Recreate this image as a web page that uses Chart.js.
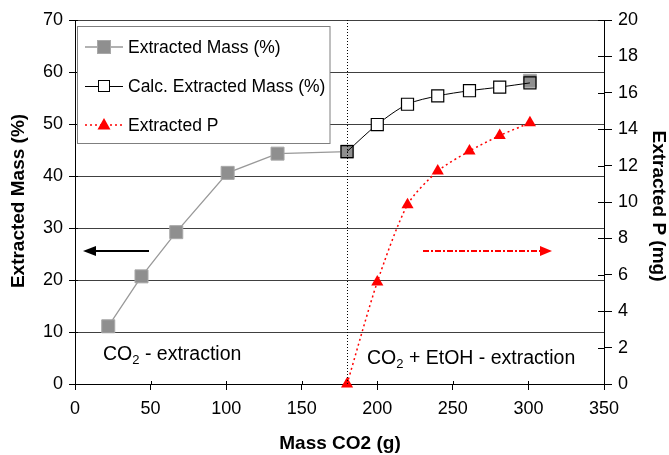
<!DOCTYPE html>
<html><head><meta charset="utf-8">
<script src="https://cdn.jsdelivr.net/npm/chart.js@4.4.1/dist/chart.umd.min.js"></script>
<style>html,body{margin:0;padding:0;background:#fff}</style>
</head><body>
<canvas id="c" width="669" height="455"></canvas>
<script>
// ---- data ----
const massX = [22, 44, 67, 101, 134, 180, 301];
const massY = [11.1, 20.7, 29.2, 40.6, 44.3, 44.7, 58.3];
const calcX = [180, 200, 220, 240, 261, 281, 301];
const calcY = [44.7, 49.9, 53.8, 55.4, 56.4, 57.1, 57.9];
const pX = [180, 200, 220, 240, 261, 281, 301];
const pY = [0, 5.6, 9.85, 11.7, 12.8, 13.65, 14.35];
const xTicks = [0, 50, 100, 150, 200, 250, 300, 350];
const leftTicks = [0, 10, 20, 30, 40, 50, 60, 70];
const rightTicks = [0, 2, 4, 6, 8, 10, 12, 14, 16, 18, 20];
const seriesNames = ['Extracted Mass (%)', 'Calc. Extracted Mass (%)', 'Extracted P'];
const xTitle = 'Mass CO2 (g)';
const yTitle = 'Extracted Mass (%)';
const y2Title = 'Extracted P (mg)';
const phaseSplit = 180;

const FONT = 'Arial, "Liberation Sans", sans-serif';
Chart.defaults.font.family = FONT;
Chart.defaults.color = '#000';

const pts = (xs, ys) => xs.map((x, i) => ({x, y: ys[i]}));

const overlay = {
  id: 'overlay',
  afterDatasetsDraw(chart) {
    const {ctx, chartArea: a, scales} = chart;
    ctx.save();
    const sx = Math.round(scales.x.getPixelForValue(phaseSplit)) + 0.5;
    ctx.strokeStyle = '#000'; ctx.lineWidth = 1; ctx.setLineDash([1, 2]);
    ctx.beginPath(); ctx.moveTo(sx, a.top); ctx.lineTo(sx, a.bottom); ctx.stroke();
    ctx.restore();
  },
  afterDraw(chart) {
    const {ctx, chartArea: a, scales} = chart;
    ctx.save();
    // inner tick crossings
    ctx.strokeStyle = '#000'; ctx.lineWidth = 1;
    ctx.beginPath();
    scales.y.ticks.forEach(t => { const y = Math.round(scales.y.getPixelForValue(t.value)) + 0.5; ctx.moveTo(a.left, y); ctx.lineTo(a.left + 3, y); });
    scales.y2.ticks.forEach(t => { const y = Math.round(scales.y2.getPixelForValue(t.value)) + 0.5; ctx.moveTo(a.right - 6, y); ctx.lineTo(a.right, y); });
    scales.x.ticks.forEach(t => { const x = Math.round(scales.x.getPixelForValue(t.value)) + 0.5; ctx.moveTo(x, a.bottom - 3); ctx.lineTo(x, a.bottom); });
    ctx.stroke();

    // arrows
    const ay = 251;
    ctx.strokeStyle = '#000'; ctx.fillStyle = '#000'; ctx.lineWidth = 2;
    ctx.beginPath(); ctx.moveTo(149, ay); ctx.lineTo(94, ay); ctx.stroke();
    ctx.beginPath(); ctx.moveTo(83, ay); ctx.lineTo(96, ay - 5); ctx.lineTo(96, ay + 5); ctx.closePath(); ctx.fill();
    ctx.strokeStyle = '#ff0000'; ctx.fillStyle = '#ff0000';
    ctx.setLineDash([6, 2, 2, 2]);
    ctx.beginPath(); ctx.moveTo(423, ay); ctx.lineTo(542, ay); ctx.stroke();
    ctx.setLineDash([]);
    ctx.beginPath(); ctx.moveTo(552, ay); ctx.lineTo(540, ay - 5); ctx.lineTo(540, ay + 5); ctx.closePath(); ctx.fill();

    // phase annotations
    const sub = (x, y, parts) => {
      ctx.fillStyle = '#000'; ctx.textBaseline = 'alphabetic'; ctx.textAlign = 'left';
      parts.forEach(p => {
        ctx.font = (p.s ? '13px ' : '19.5px ') + FONT;
        ctx.fillText(p.t, x, y + (p.s ? 4 : 0));
        x += ctx.measureText(p.t).width;
      });
    };
    sub(103, 360, [{t: 'CO'}, {t: '2', s: 1}, {t: ' - extraction'}]);
    sub(367, 364, [{t: 'CO'}, {t: '2', s: 1}, {t: ' + EtOH - extraction'}]);

    // legend
    const L = {x: 77.5, y: 26.5, w: 252.5, h: 117};
    ctx.fillStyle = '#fff'; ctx.fillRect(L.x, L.y, L.w, L.h);
    ctx.strokeStyle = '#7f7f7f'; ctx.lineWidth = 1; ctx.strokeRect(L.x, L.y, L.w, L.h);
    const rows = [47, 86, 125];
    ctx.strokeStyle = '#999'; ctx.lineWidth = 1.3;
    ctx.beginPath(); ctx.moveTo(85, rows[0]); ctx.lineTo(123, rows[0]); ctx.stroke();
    ctx.fillStyle = '#8f8f8f'; ctx.fillRect(97.5, rows[0] - 6.5, 13, 13);
    ctx.strokeStyle = '#a8a8a8'; ctx.lineWidth = 1; ctx.strokeRect(97.5, rows[0] - 6.5, 13, 13);
    ctx.strokeStyle = '#000'; ctx.lineWidth = 1;
    ctx.beginPath(); ctx.moveTo(85, rows[1] + 0.5); ctx.lineTo(123, rows[1] + 0.5); ctx.stroke();
    ctx.fillStyle = '#fff'; ctx.fillRect(98.5, rows[1] - 5.5, 11, 11);
    ctx.strokeRect(98.5, rows[1] - 5.5, 11, 11);
    ctx.strokeStyle = '#ff0000'; ctx.lineWidth = 1.5; ctx.setLineDash([2, 3]);
    ctx.beginPath(); ctx.moveTo(85, rows[2]); ctx.lineTo(123, rows[2]); ctx.stroke();
    ctx.setLineDash([]);
    ctx.fillStyle = '#ff0000';
    ctx.beginPath(); ctx.moveTo(104, rows[2] - 7); ctx.lineTo(110.5, rows[2] + 4.5); ctx.lineTo(97.5, rows[2] + 4.5); ctx.closePath(); ctx.fill();
    ctx.fillStyle = '#000'; ctx.font = '17.5px ' + FONT; ctx.textBaseline = 'middle'; ctx.textAlign = 'left';
    seriesNames.forEach((n, i) => ctx.fillText(n, 128, rows[i] + 1));

    // axis titles
    ctx.font = 'bold 19px ' + FONT; ctx.textAlign = 'center'; ctx.textBaseline = 'middle';
    ctx.fillText(xTitle, 340, 444);
    ctx.save(); ctx.translate(19, 201); ctx.rotate(-Math.PI / 2); ctx.fillText(yTitle, 0, 0); ctx.restore();
    ctx.save(); ctx.translate(658, 206); ctx.rotate(Math.PI / 2); ctx.fillText(y2Title, 0, 0); ctx.restore();
    ctx.restore();
  }
};

const setTicks = arr => scale => { scale.ticks = arr.map(v => ({value: v})); };

new Chart(document.getElementById('c'), {
  type: 'scatter',
  data: {
    datasets: [
      {
        label: seriesNames[1], data: pts(calcX, calcY), yAxisID: 'y', showLine: true, order: 1,
        borderColor: '#000', borderWidth: 1, tension: 0.3,
        pointStyle: 'rect', pointRadius: 8.5, pointHoverRadius: 8.5,
        pointBorderColor: '#000', pointBorderWidth: 1.2,
        pointBackgroundColor: calcX.map((x, i) => (i === 0 || i === calcX.length - 1) ? 'rgba(0,0,0,0)' : '#fff')
      },
      {
        label: seriesNames[0], data: pts(massX, massY), yAxisID: 'y', showLine: true, order: 2,
        borderColor: '#999', borderWidth: 1.3, tension: 0,
        segment: {borderColor: c => c.p1DataIndex === massX.length - 1 ? 'rgba(0,0,0,0)' : '#999'},
        pointStyle: 'rect', pointRadius: 9.2, pointHoverRadius: 9.2,
        pointBackgroundColor: '#8f8f8f', pointBorderColor: '#a8a8a8', pointBorderWidth: 1
      },
      {
        label: seriesNames[2], data: pts(pX, pY), yAxisID: 'y2', showLine: true, order: 3, clip: false,
        borderColor: '#ff0000', borderWidth: 1.5, borderDash: [2, 3], tension: 0.25,
        pointStyle: 'triangle', pointRadius: 7, pointHoverRadius: 7,
        pointBackgroundColor: '#ff0000', pointBorderColor: '#ff0000', pointBorderWidth: 0
      }
    ]
  },
  options: {
    responsive: false, animation: false, devicePixelRatio: 1,
    layout: {padding: {top: 20, left: 0, right: 0, bottom: 0}},
    plugins: {legend: {display: false}, tooltip: {enabled: false}},
    scales: {
      x: {
        type: 'linear', min: 0, max: 350, afterBuildTicks: setTicks(xTicks),
        afterFit: s => { s.height = 71; },
        ticks: {font: {size: 18}, color: '#000', padding: 8, maxRotation: 0},
        grid: {drawOnChartArea: false, color: '#000', tickLength: 6},
        border: {color: '#000', width: 1}
      },
      y: {
        position: 'left', min: 0, max: 70, afterBuildTicks: setTicks(leftTicks),
        afterFit: s => { s.width = 75; },
        ticks: {font: {size: 18}, color: '#000', padding: 6},
        grid: {color: '#404040', lineWidth: 1, tickColor: '#000', tickLength: 6},
        border: {color: '#000', width: 1}
      },
      y2: {
        position: 'right', min: 0, max: 20, afterBuildTicks: setTicks(rightTicks),
        afterFit: s => { s.width = 65; },
        ticks: {font: {size: 18}, color: '#000', padding: 6},
        grid: {drawOnChartArea: false, color: '#000', tickLength: 8},
        border: {color: '#000', width: 1}
      }
    }
  },
  plugins: [overlay]
});
</script>
</body></html>
